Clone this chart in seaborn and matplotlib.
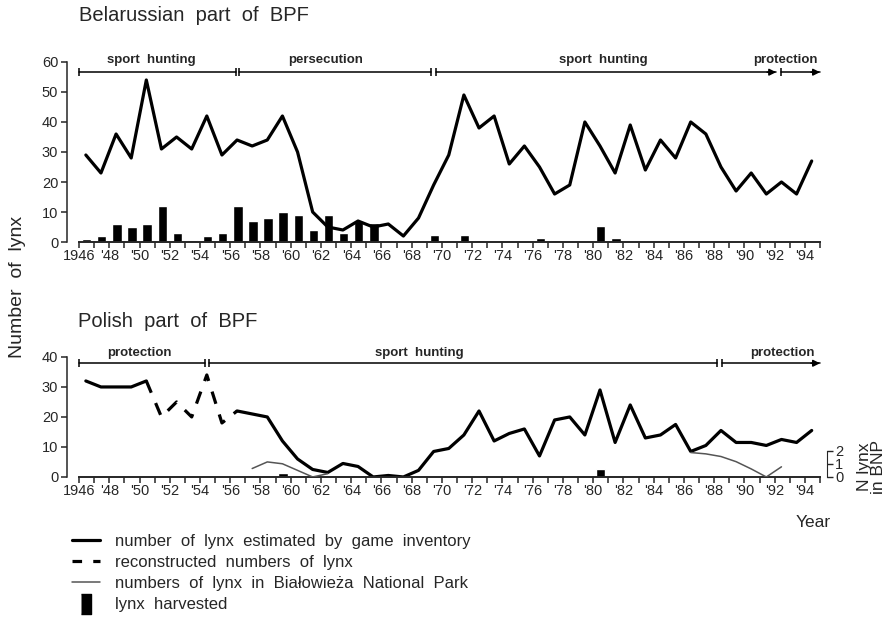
import numpy as np
import matplotlib
matplotlib.use("Agg")
import matplotlib.pyplot as plt
import seaborn as sns
from matplotlib.lines import Line2D

# ---- data ----
years = list(range(1946, 1995))

# Belarussian part: number of lynx (game inventory)
by_lynx = [29, 23, 36, 28, 54, 31, 35, 31, 42, 29,
           34, 32, 34, 42, 30, 10, 5, 4, 7, 5,
           6, 2, 8, 19, 29, 49, 38, 42, 26, 32,
           25, 16, 19, 40, 32, 23, 39, 24, 34, 28,
           40, 36, 25, 17, 23, 16, 20, 16, 27]

# Belarussian part: lynx harvested
by_harv_years = [1946, 1947, 1948, 1949, 1950, 1951, 1952, 1953, 1954, 1955,
                 1956, 1957, 1958, 1959, 1960, 1961, 1962, 1963, 1964, 1965,
                 1966, 1967, 1969, 1971, 1972, 1973, 1976, 1977, 1980, 1981,
                 1983, 1986, 1988, 1989, 1991]
by_harv = [1, 2, 6, 5, 6, 12, 3, 0.7, 2, 3,
           12, 7, 8, 10, 9, 4, 9, 3, 7, 6.5,
           0.4, 0.4, 2.5, 2.5, 0.8, 0.5, 1.5, 0.7, 5.5, 1.3,
           0.4, 0.4, 0.4, 0.4, 0.4]

# Polish part: game inventory (two solid stretches) and reconstructed numbers
pl_years_a = [1946, 1947, 1948, 1949, 1950]
pl_lynx_a = [32, 30, 30, 30, 32]
pl_years_rec = [1950, 1951, 1952, 1953, 1954, 1955, 1956]
pl_lynx_rec = [32, 20, 25, 20, 34, 18, 22]
pl_years_b = list(range(1956, 1995))
pl_lynx_b = [22, 21, 20, 12, 6, 2.5, 1.5, 4.5, 3.5, 0,
             0.5, 0, 2.2, 8.5, 9.5, 14, 22, 12, 14.5, 16,
             7, 19, 20, 14, 29, 11.5, 24, 13, 14, 17.5,
             8.5, 10.5, 15.5, 11.5, 11.5, 10.5, 12.5, 11.5, 15.5]

# Polish part: lynx harvested
pl_harv_years = [1957, 1959, 1971, 1972, 1973, 1976, 1980, 1989]
pl_harv = [0.5, 1.4, 0.3, 0.3, 0.3, 0.3, 2.6, 0.3]

# Bialowieza National Park (right-hand scale)
bnp_years_a = [1957, 1958, 1959, 1960, 1961, 1962]
bnp_a = [0.64, 1.14, 1.0, 0.5, 0.0, 0.25]
bnp_years_b = [1986, 1987, 1988, 1989, 1990, 1991, 1992]
bnp_b = [1.85, 1.75, 1.55, 1.16, 0.61, 0.0, 0.77]

# management periods: (label, start, end, label centre, arrow at end)
by_periods = [("sport  hunting", 1946, 1956.4, 1950.8, False),
              ("persecution", 1956.6, 1969.3, 1962.3, False),
              ("sport  hunting", 1969.6, 1992.1, 1980.7, True),
              ("protection", 1992.4, 1995, 1992.7, True)]
pl_periods = [("protection", 1946, 1954.3, 1950.0, False),
              ("sport  hunting", 1954.6, 1988.2, 1968.5, False),
              ("protection", 1988.5, 1995, 1992.5, True)]

sns.set_style("ticks")
plt.rcParams["font.family"] = ["Liberation Sans", "DejaVu Sans"]

fig = plt.figure(figsize=(8.92, 6.18), dpi=100)
ax1 = fig.add_axes([0.0886, 0.6084, 0.8307, 0.2913])
ax2 = fig.add_axes([0.0886, 0.2282, 0.8307, 0.1942])

LW = 2.3
off = 0.45  # values are plotted at mid-year


def shift(v, d):
    return [x + d for x in v]


# ---- top panel ----
sns.barplot(x=shift(by_harv_years, 0.5), y=by_harv, native_scale=True,
            color="black", saturation=1, width=0.62, ax=ax1)
sns.lineplot(x=shift(years, off), y=by_lynx, color="black", lw=LW, ax=ax1)

# ---- bottom panel ----
sns.barplot(x=shift(pl_harv_years, 0.5), y=pl_harv, native_scale=True,
            color="black", saturation=1, width=0.62, ax=ax2)
sns.lineplot(x=shift(pl_years_a, off), y=pl_lynx_a, color="black", lw=LW, ax=ax2)
sns.lineplot(x=shift(pl_years_rec, off), y=pl_lynx_rec, color="black", lw=LW,
             linestyle=(0, (4, 3.5)), ax=ax2)
sns.lineplot(x=shift(pl_years_b, off), y=pl_lynx_b, color="black", lw=LW, ax=ax2)

ax3 = ax2.twinx()
sns.lineplot(x=shift(bnp_years_a, off), y=bnp_a, color="#555555", lw=1.1, ax=ax3)
sns.lineplot(x=shift(bnp_years_b, off), y=bnp_b, color="#555555", lw=1.1, ax=ax3)
ax3.set_ylim(0, 40 / 4.4)
ax3.set_yticks([0, 1, 2])
ax3.spines["right"].set_bounds(0, 2)
ax3.spines["right"].set_position(("outward", 5))
for s in ["top", "left", "bottom"]:
    ax3.spines[s].set_visible(False)
ax3.tick_params(axis="y", length=4, width=1, labelsize=10.5, pad=2)
ax3.set_ylabel("")
fig.text(0.977, 0.245, "N lynx\nin BNP", rotation=90, ha="center", va="center",
         fontsize=12.5, linespacing=0.95)

# ---- axes styling ----
for ax, ymax in [(ax1, 60), (ax2, 40)]:
    ax.set_xlim(1946, 1995)
    ax.set_ylim(0, ymax)
    ax.set_xticks(range(1946, 1996))
    ax.set_xticklabels(["1946" if y == 1946 else ("'%02d" % (y % 100) if y % 2 == 0 else "")
                        for y in range(1946, 1996)])
    ax.set_yticks(range(0, ymax + 1, 10))
    ax.spines["top"].set_visible(False)
    ax.spines["right"].set_visible(False)
    ax.spines["left"].set_position(("outward", 9))
    ax.spines["left"].set_linewidth(1.1)
    ax.spines["bottom"].set_linewidth(1.4)
    ax.tick_params(axis="x", length=4, width=1.1, labelsize=10.5, pad=1)
    ax.tick_params(axis="y", length=4, width=1.1, labelsize=10.5, pad=2)
    ax.set_xlabel("")
    ax.set_ylabel("")


def draw_periods(ax, periods, y_arrow, y_text):
    for label, x0, x1, xc, arrow in periods:
        ax.plot([x0, x1], [y_arrow, y_arrow], color="black", lw=1.1, clip_on=False)
        ends = [x0] if arrow else [x0, x1]
        ax.plot(ends, [y_arrow] * len(ends), ls="none", marker="|", ms=6,
                mew=1.1, color="black", clip_on=False)
        if arrow:
            ax.annotate("", xy=(x1, y_arrow), xytext=(x1 - 0.6, y_arrow),
                        arrowprops=dict(arrowstyle="-|>", color="black", lw=1.1,
                                        shrinkA=0, shrinkB=0, mutation_scale=10),
                        annotation_clip=False)
        ax.text(xc, y_text, label, ha="center", va="center",
                fontsize=9.5, fontweight="bold", clip_on=False)


draw_periods(ax1, by_periods, 56.6, 60.7)
draw_periods(ax2, pl_periods, 37.9, 41.3)

# ---- titles and labels ----
fig.text(0.089, 0.975, "Belarussian  part  of  BPF", ha="left", va="center", fontsize=14.5)
fig.text(0.087, 0.479, "Polish  part  of  BPF", ha="left", va="center", fontsize=14.5)
fig.text(0.02, 0.535, "Number  of  lynx", rotation=90, ha="center", va="center", fontsize=14)
fig.text(0.931, 0.155, "Year", ha="right", va="center", fontsize=12.5)

# ---- legend ----
bar_marker = [(-0.22, -0.5), (0.22, -0.5), (0.22, 0.5), (-0.22, 0.5)]
handles = [Line2D([], [], color="black", lw=LW),
           Line2D([], [], color="black", lw=LW, linestyle=(0, (3, 3.5))),
           Line2D([], [], color="#555555", lw=1.1),
           Line2D([], [], color="black", lw=0, marker=bar_marker, markersize=15)]
labels = ["number  of  lynx  estimated  by  game  inventory",
          "reconstructed  numbers  of  lynx",
          "numbers  of  lynx  in  Białowieża  National  Park",
          "lynx  harvested"]
fig.legend(handles, labels, loc="upper left", bbox_to_anchor=(0.0715, 0.1495),
           frameon=False, fontsize=12, handlelength=1.7, handletextpad=0.9,
           labelspacing=0.37, borderpad=0)

fig.savefig("out.png", dpi=100)
